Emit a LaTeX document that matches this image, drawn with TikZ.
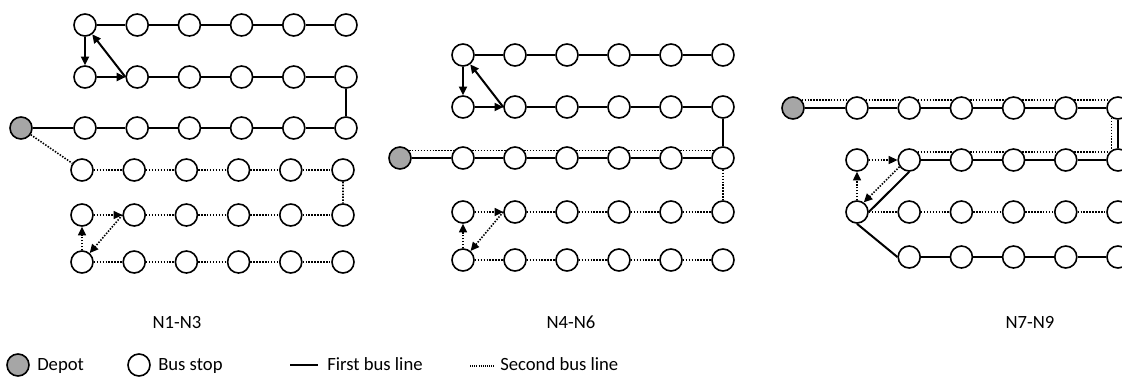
\documentclass[tikz,border=0pt]{standalone}
\usepackage{fontspec}
\setmainfont{Carlito}
\usetikzlibrary{arrows.meta}
\tikzset{
  busstop/.style={circle,draw,line width=1.2pt,fill=white,minimum size=16.5pt,inner sep=0pt},
  depot/.style={busstop,fill=black!35},
  firstline/.style={line width=1.5pt},
  secondline/.style={line width=1.2pt,dash pattern=on 1.1pt off 1.1pt},
  arrowed/.style={-{Triangle[length=6.5pt,width=6pt]}},
  panellabel/.style={font=\fontsize{14}{16}\selectfont,inner sep=0pt,anchor=base},
  legendtext/.style={font=\fontsize{14}{16}\selectfont,inner sep=0pt,anchor=base west}
}
\begin{document}
\begin{tikzpicture}[x=0.75pt,y=-0.75pt]
\useasboundingbox (0,0) rectangle (1122,383);
\clip (0,0) rectangle (1122,383);

% N1-N3
\node[depot] (A) at (21,128) {};
\foreach \r/\y in {1/25,2/77,3/128}
  \foreach \c in {0,...,5}
    \node[busstop] (a\r\c) at (85+52.2*\c,\y) {};
\foreach \r/\y in {4/170,5/215,6/262}
  \foreach \c in {0,...,5}
    \node[busstop] (a\r\c) at (82+52.2*\c,\y) {};

\foreach \c [count=\n] in {0,...,4} {
  \draw[firstline] (a1\c) -- (a1\n);
  \draw[firstline] (a3\c) -- (a3\n);
  \draw[secondline] (a4\c) -- (a4\n);
  \draw[secondline] (a6\c) -- (a6\n);
}
\foreach \c [count=\n from 2] in {1,...,4} {
  \draw[firstline] (a2\c) -- (a2\n);
  \draw[secondline] (a5\c) -- (a5\n);
}
\draw[firstline] (A) -- (a30) (a25) -- (a35);
\draw[firstline,arrowed] (a10) -- (a20);
\draw[firstline,arrowed] (a20) -- (a21);
\draw[firstline,arrowed] (a21.west) -- (a10);
\draw[secondline] (A) -- (a40) (a45) -- (a55);
\draw[secondline,arrowed] (a50) -- (a51);
\draw[secondline,arrowed] (a51.west) -- (a60);
\draw[secondline,arrowed] (a60) -- (a50);

% N4-N6
\node[depot] (B) at (400,158) {};
\foreach \r/\y in {1/55,2/107,3/158,4/212,5/260}
  \foreach \c in {0,...,5}
    \node[busstop] (b\r\c) at (463+52*\c,\y) {};

\foreach \c [count=\n] in {0,...,4} {
  \draw[firstline] (b1\c) -- (b1\n);
  \draw[firstline] (b3\c) -- (b3\n);
  \draw[secondline] (b3\c.40) -- (b3\n.140);
  \draw[secondline] (b5\c) -- (b5\n);
}
\foreach \c [count=\n from 2] in {1,...,4} {
  \draw[firstline] (b2\c) -- (b2\n);
  \draw[secondline] (b4\c) -- (b4\n);
}
\draw[firstline] (B) -- (b30) (b25) -- (b35);
\draw[secondline] (B.40) -- (b30.140) (b35) -- (b45);
\draw[firstline,arrowed] (b10) -- (b20);
\draw[firstline,arrowed] (b20) -- (b21);
\draw[firstline,arrowed] (b21.west) -- (b10);
\draw[secondline,arrowed] (b40) -- (b41);
\draw[secondline,arrowed] (b41.west) -- (b50);
\draw[secondline,arrowed] (b50) -- (b40);

% N7-N9
\node[depot] (C) at (793,108) {};
\foreach \r/\y in {1/108,2/160,3/212}
  \foreach \c in {0,...,5}
    \node[busstop] (c\r\c) at (857+52.2*\c,\y) {};
\foreach \c in {1,...,5}
  \node[busstop] (c4\c) at (857+52.2*\c,257) {};

\foreach \c [count=\n] in {0,...,4} {
  \draw[firstline] (c1\c) -- (c1\n);
  \draw[secondline] (c1\c.43) -- (c1\n.137);
  \draw[secondline] (c3\c) -- (c3\n);
}
\foreach \c [count=\n from 2] in {1,...,4} {
  \draw[firstline] (c2\c) -- (c2\n);
  \draw[secondline] (c2\c.43) -- (c2\n.137);
  \draw[firstline] (c4\c) -- (c4\n);
}
\draw[firstline] (C) -- (c10) (c15) -- (c25);
\draw[secondline] (C.43) -- (c10.137) (c15.237) -- (c25.123);
\draw[firstline] (c21.270) -- (c30.0) (c30.south) -- (c41.west);
\draw[secondline,arrowed] (c21.215) -- (c30.55);
\draw[secondline,arrowed] (c30) -- (c20);
\draw[secondline,arrowed] (c20) -- (c21);

% labels
\node[panellabel] (n13) at (177,328) {N1-N3};
\node[panellabel] (n46) at (571,328) {N4-N6};
\node[panellabel] (n79) at (1030,328) {N7-N9};

% legend
\node[depot] (legdepot) at (18,365) {};
\node[legendtext] (tdepot) at (37,370) {Depot};
\node[busstop] (legstop) at (139,365) {};
\node[legendtext] (tstop) at (158,370) {Bus stop};
\coordinate (f1) at (290,365);
\coordinate (f2) at (318,365);
\draw[firstline] (f1) -- (f2);
\node[legendtext] (tfirst) at (327,370) {First bus line};
\coordinate (s1) at (470,366);
\coordinate (s2) at (494,366);
\draw[line width=0.9pt,dash pattern=on 0.8pt off 0.8pt] (s1) -- (s2);
\node[legendtext] (tsecond) at (500,370) {Second bus line};
\end{tikzpicture}
\end{document}
